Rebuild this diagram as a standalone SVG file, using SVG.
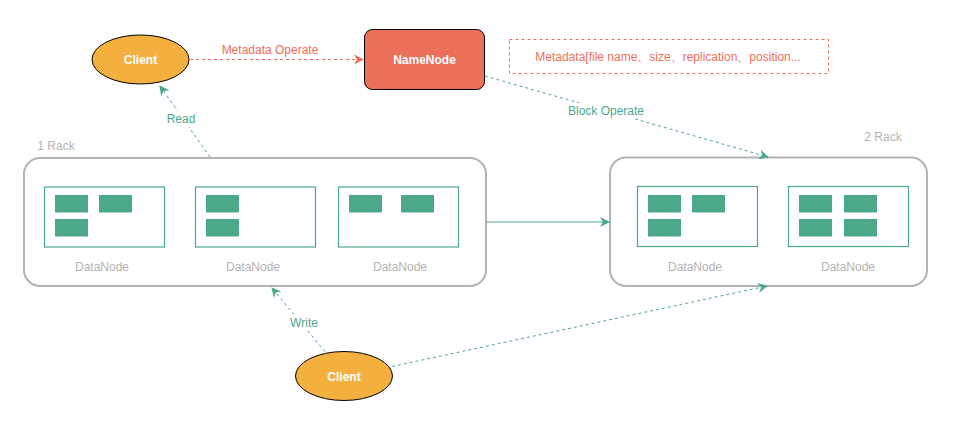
<svg xmlns="http://www.w3.org/2000/svg" width="966" height="425" viewBox="0 0 966 425">
<defs>
<style>
text{font-family:"Liberation Sans",Arial,sans-serif;font-size:12px;text-anchor:middle;dominant-baseline:central}
.rack{fill:#fff;stroke:#b3b3b3;stroke-width:2}
.dn{fill:#fff;stroke:#4ba88b;stroke-width:1.2}
.blk{fill:#4ba88b}
.sh{stroke:#a8d5c6;stroke-width:1}
.grey{fill:#b3b3b3}
.green{fill:#4ba88b}
.red{fill:#ec6f5a}
.white{fill:#fff;font-weight:bold}
.gl{fill:none;stroke:#4ba88b;stroke-width:1;stroke-dasharray:3 3}
.rl{fill:none;stroke:#ec6f5a;stroke-width:1;stroke-dasharray:3 3}
</style>
<marker id="ag" viewBox="0 0 10 10" refX="9" refY="5" markerWidth="10" markerHeight="10" markerUnits="userSpaceOnUse" orient="auto"><path d="M0,0 L10,5 L0,10 L3,5 Z" fill="#4ba88b"/></marker>
<marker id="ar" viewBox="0 0 10 10" refX="9" refY="5" markerWidth="10" markerHeight="10" markerUnits="userSpaceOnUse" orient="auto"><path d="M0,0 L10,5 L0,10 L3,5 Z" fill="#ec6f5a"/></marker>
</defs>
<rect width="966" height="425" fill="#fff"/>

<g id="rack1">
<rect class="rack" x="24" y="158" width="462" height="128" rx="16"/>
<text x="56" y="146" class="grey" style="fill:#b3b3b3">1 Rack</text>
<g id="dn1">
<rect class="dn" x="44.5" y="187" width="120" height="60"/>
<rect class="blk" x="55" y="195" width="33" height="17"/><rect class="blk" x="99" y="195" width="33" height="17"/><rect class="blk" x="55" y="219" width="33" height="17"/>
<path class="sh" d="M55,212.5h33M99,212.5h33M55,236.5h33"/>
<text x="102" y="267" class="grey">DataNode</text>
</g>
<g id="dn2">
<rect class="dn" x="195.5" y="187" width="120" height="60"/>
<rect class="blk" x="206" y="195" width="33" height="17"/><rect class="blk" x="206" y="219" width="33" height="17"/>
<path class="sh" d="M206,212.5h33M206,236.5h33"/>
<text x="253" y="267" class="grey">DataNode</text>
</g>
<g id="dn3">
<rect class="dn" x="338.5" y="187" width="120" height="60"/>
<rect class="blk" x="349" y="195" width="33" height="17"/><rect class="blk" x="401" y="195" width="33" height="17"/>
<path class="sh" d="M349,212.5h33M401,212.5h33"/>
<text x="400" y="267" class="grey">DataNode</text>
</g>
</g>

<g id="rack2">
<rect class="rack" x="610" y="157.5" width="317" height="128.5" rx="16"/>
<text x="883" y="137" class="grey">2 Rack</text>
<g id="dn4">
<rect class="dn" x="637.5" y="186.5" width="120" height="60"/>
<rect class="blk" x="648" y="195" width="33" height="17"/><rect class="blk" x="692" y="195" width="33" height="17"/><rect class="blk" x="648" y="219" width="33" height="17"/>
<path class="sh" d="M648,212.5h33M692,212.5h33M648,236.5h33"/>
<text x="695" y="267" class="grey">DataNode</text>
</g>
<g id="dn5">
<rect class="dn" x="788.5" y="186.5" width="120" height="60"/>
<rect class="blk" x="799" y="195" width="33" height="17"/><rect class="blk" x="844" y="195" width="33" height="17"/><rect class="blk" x="799" y="219" width="33" height="17"/><rect class="blk" x="844" y="219" width="33" height="17"/>
<path class="sh" d="M799,212.5h33M844,212.5h33M799,236.5h33M844,236.5h33"/>
<text x="848" y="267" class="grey">DataNode</text>
</g>
</g>

<g id="client1">
<ellipse cx="140.5" cy="59.5" rx="48.5" ry="24.5" fill="#f3b03f" stroke="#000" stroke-width="1"/>
<text x="140.5" y="60" class="white">Client</text>
</g>
<g id="namenode">
<rect x="364.5" y="29.5" width="120" height="60" rx="8" fill="#ec6f5a" stroke="#000" stroke-width="1"/>
<text x="424.5" y="60" class="white">NameNode</text>
</g>
<g id="metadata">
<rect x="509.5" y="39.5" width="319" height="34" fill="#fff" stroke="#ec6f5a" stroke-width="1" stroke-dasharray="3 3"/>
<text x="668" y="57" class="red">Metadata[file name、size、replication、position...</text>
</g>
<g id="client2">
<ellipse cx="344" cy="376" rx="48.5" ry="24.5" fill="#f3b03f" stroke="#000" stroke-width="1"/>
<text x="344" y="376.5" class="white">Client</text>
</g>

<g id="connectors">
<path class="rl" d="M190,59.5 L363,59.5" marker-end="url(#ar)"/>
<text x="270" y="50" class="red">Metadata Operate</text>
<path class="gl" d="M210,157 L160,86" marker-end="url(#ag)"/>
<rect x="165" y="111" width="32" height="16" fill="#fff"/>
<text x="181" y="119" class="green">Read</text>
<path class="gl" d="M485,76 L768,157" marker-end="url(#ag)"/>
<rect x="566" y="103" width="80" height="16" fill="#fff"/>
<text x="606" y="111" class="green">Block Operate</text>
<path d="M486,222 L609,222" fill="none" stroke="#4ba88b" stroke-width="1" marker-end="url(#ag)"/>
<path class="gl" d="M325,351.5 L272,288" marker-end="url(#ag)"/>
<rect x="288" y="315" width="32" height="16" fill="#fff"/>
<text x="304" y="323" class="green">Write</text>
<path class="gl" d="M392,366.5 L767,286" marker-end="url(#ag)"/>
</g>
</svg>
